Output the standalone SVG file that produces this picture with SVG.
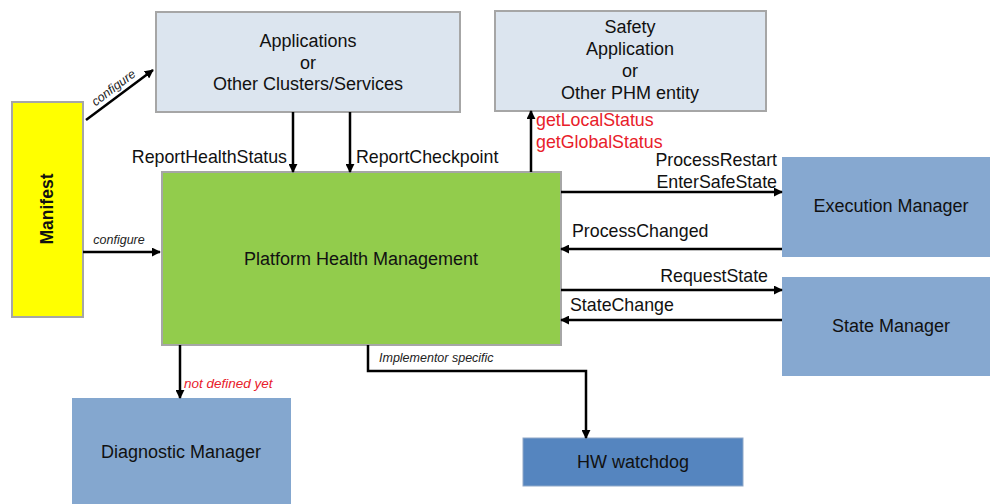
<svg xmlns="http://www.w3.org/2000/svg" width="990" height="504" viewBox="0 0 990 504">
<defs>
<marker id="ah" viewBox="0 0 10 10" refX="9" refY="5" markerWidth="9" markerHeight="9" markerUnits="userSpaceOnUse" orient="auto">
<path d="M0,0 L10,5 L0,10 z" fill="#000"/>
</marker>
<style>
text{font-family:"Liberation Sans",Arial,sans-serif;fill:#111}
.n{font-size:18px;text-anchor:middle}
.l{font-size:17.8px}
.i{font-style:italic;font-size:12.5px;fill:#222}
.r{fill:#e8202a}
.box{stroke:#a6a6a6;stroke-width:2}
.c{stroke:#000;stroke-width:2.5;fill:none;marker-end:url(#ah)}
</style>
</defs>
<rect width="990" height="504" fill="#fff"/>
<g id="applications">
<rect class="box" x="156" y="12" width="304" height="100" fill="#dce5ef"/>
<text class="n" x="308" y="47">Applications</text>
<text class="n" x="308" y="69">or</text>
<text class="n" x="308" y="90">Other Clusters/Services</text>
</g>
<g id="safety">
<rect class="box" x="495" y="11" width="271" height="100" fill="#dce5ef"/>
<text class="n" x="630" y="33">Safety</text>
<text class="n" x="630" y="55">Application</text>
<text class="n" x="630" y="77">or</text>
<text class="n" x="630" y="99">Other PHM entity</text>
</g>
<g id="manifest">
<rect class="box" x="12" y="102" width="71" height="215" fill="#ffff00"/>
<text x="47" y="209" transform="rotate(-90 47 209)" style="font-size:17.5px;font-weight:bold;text-anchor:middle" dy="6">Manifest</text>
</g>
<g id="phm">
<rect class="box" x="162" y="172" width="399" height="173" fill="#92cc4c"/>
<text class="n" x="361" y="265">Platform Health Management</text>
</g>
<g id="execution-manager">
<rect x="782" y="157" width="210" height="100" fill="#86a8d0"/>
<text class="n" x="891" y="212">Execution Manager</text>
</g>
<g id="state-manager">
<rect x="782" y="277" width="210" height="99" fill="#86a8d0"/>
<text class="n" x="891" y="332">State Manager</text>
</g>
<g id="diagnostic-manager">
<rect x="72" y="398" width="219" height="110" fill="#84a7cf"/>
<text class="n" x="181" y="458">Diagnostic Manager</text>
</g>
<g id="hw-watchdog">
<rect x="523" y="438" width="220" height="48" fill="#5585bf" stroke="#8fa8c8" stroke-width="1"/>
<text class="n" x="633" y="468">HW watchdog</text>
</g>
<g id="connectors">
<path class="c" d="M86,120 L153,70"/>
<text class="i" transform="translate(116,91) rotate(-37)" text-anchor="middle">configure</text>
<path class="c" d="M83,252 L160,252"/>
<text class="i" x="119" y="244" text-anchor="middle">configure</text>
<path class="c" d="M293,112 L293,172"/>
<text class="l" x="287" y="163" text-anchor="end">ReportHealthStatus</text>
<path class="c" d="M350,112 L350,172"/>
<text class="l" x="356" y="163">ReportCheckpoint</text>
<path class="c" d="M531,172 L531,111"/>
<text class="l r" x="536" y="126">getLocalStatus</text>
<text class="l r" x="536" y="148">getGlobalStatus</text>
<path class="c" d="M561,192 L782,192"/>
<text class="l" x="777" y="166" text-anchor="end">ProcessRestart</text>
<text class="l" x="777" y="188" text-anchor="end">EnterSafeState</text>
<path class="c" d="M782,249 L561,249"/>
<text class="l" x="572" y="237">ProcessChanged</text>
<path class="c" d="M561,290 L782,290"/>
<text class="l" x="768" y="282" text-anchor="end">RequestState</text>
<path class="c" d="M782,320 L561,320"/>
<text class="l" x="570" y="311">StateChange</text>
<path class="c" d="M180,345 L180,398"/>
<text class="i r" x="184" y="388" style="font-size:13.5px">not defined yet</text>
<path class="c" d="M368,345 L368,371 L586,371 L586,438"/>
<text class="i" x="379" y="362">Implementor specific</text>
</g>
</svg>
